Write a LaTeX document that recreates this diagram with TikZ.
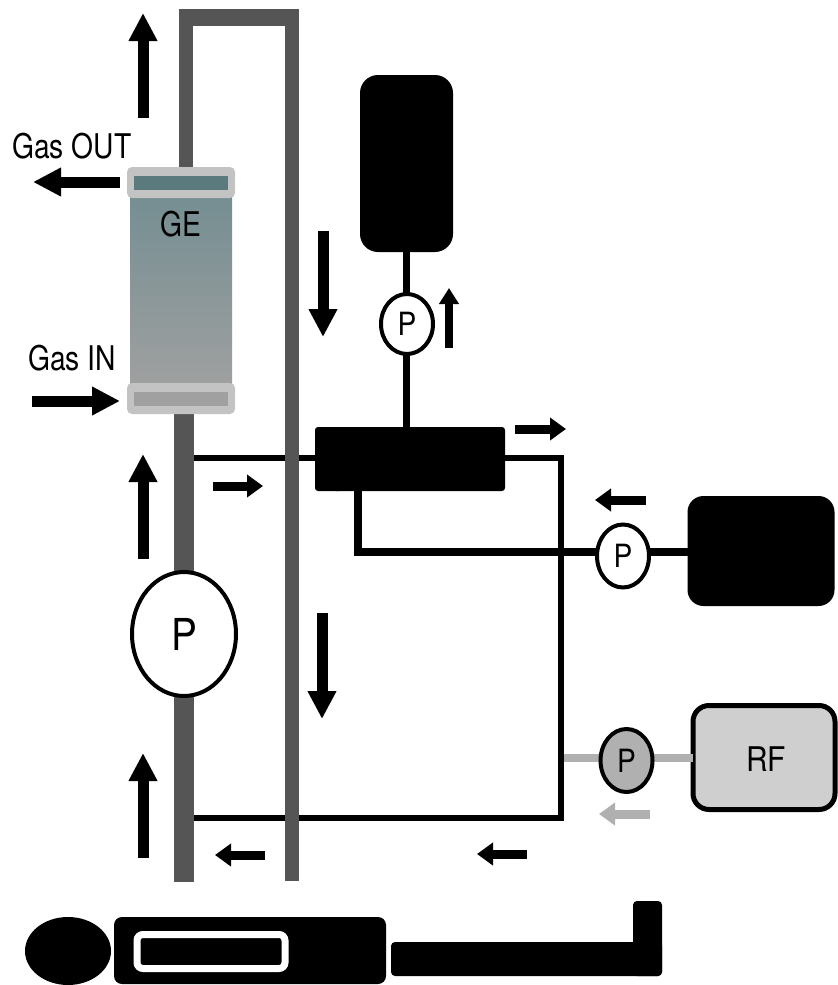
\documentclass[tikz,border=0pt]{standalone}
\usepackage{fontspec}
\setmainfont{TeX Gyre Heros}
\usetikzlibrary{positioning,calc,arrows.meta,shapes.geometric}
\definecolor{pipegray}{HTML}{555555}
\definecolor{capgray}{HTML}{C3C3C3}
\definecolor{rfgray}{HTML}{CFCFCF}
\definecolor{feedgray}{HTML}{B0B0B0}
\definecolor{getop}{HTML}{748E92}
\definecolor{gebot}{HTML}{A0A0A0}
\definecolor{capteal}{HTML}{5A7A7E}
\newcommand{\pumpmark}{\scalebox{.88}[1]{P}}
\tikzset{
	pipe/.style={draw=pipegray,line width=7pt},
	tube/.style={draw=black,line width=3pt},
	feed/.style={draw=feedgray,line width=4pt},
	bigflow/.style={line width=5.5pt,-{Triangle[length=14pt,width=13.5pt]}},
	smallflow/.style={line width=4.5pt,-{Triangle[length=8pt,width=11pt]}},
	pump/.style={ellipse,draw=black,fill=white,line width=2pt,inner sep=0pt,outer sep=0pt,font=\fontsize{16}{16}\selectfont},
	solid box/.style={rectangle,fill=black,inner sep=0pt,outer sep=0pt},
	capbox/.style={rectangle,rounded corners=2.5pt,fill=capgray,inner sep=0pt,outer sep=0pt,minimum width=54pt,minimum height=15.5pt},
	capin/.style={rectangle,inner sep=0pt,outer sep=0pt,minimum width=47pt,minimum height=7pt},
	lab/.style={inner sep=0pt,xscale=.83,font=\fontsize{17}{17}\selectfont}
}
\begin{document}
\begin{tikzpicture}[x=.5pt,y=-.5pt]
	\useasboundingbox (0,0) rectangle (837,985);
	\path (186,168) coordinate (Pt)
	      (292,881) coordinate (Pb)
	      (184,882) coordinate (Lb)
	      (357.5,552) coordinate (Tee)
	      (561,458) coordinate (Ra)
	      (561,817.5) coordinate (Rb)
	      (184,458) coordinate (La)
	      (184,817.5) coordinate (Lc);
	\draw[tube] (La) -- (333,458);
	\draw[tube] (Lc) -- (Rb) -- (Ra) -- (500,458);
	\draw[pipe] (Pt) -- (186,9);
	\draw[draw=pipegray,line width=8.5pt] (179,17.5) -- (299,17.5);
	\draw[pipe] (292,9) -- (Pb);
	\draw[draw=pipegray,line width=10pt] (184,410) -- (Lb);
	\node[rectangle,minimum width=51pt,minimum height=100pt,inner sep=0pt,outer sep=0pt,top color=getop,bottom color=gebot] (GE) at (181,291) {};
	\node[capbox] (capT) at (181,182.5) {};
	\node[capbox] (capB) at (181,398.5) {};
	\node[capin,fill=capteal] (capTi) at (capT) {};
	\node[capin,fill=gebot] (capBi) at (capB) {};
	\node[lab] (GElab) at (181,224) {GE};
	\node[lab,anchor=west] (gasout) at (12,146) {Gas OUT};
	\node[lab,anchor=west] (gasin) at (28,358) {Gas IN};
	\node[solid box,rounded corners=1.5pt,minimum width=86pt,minimum height=32pt] (mixer) at (419,459) {};
	\node[solid box,rounded corners=1.5pt,minimum width=13pt,minimum height=32pt] (mixerL) at (328,459) {};
	\node[solid box,rounded corners=9pt,minimum width=46.5pt,minimum height=88.5pt] (tankA) at (406.5,163.5) {};
	\node[solid box,rounded corners=8pt,minimum width=73.5pt,minimum height=55pt] (tankB) at (761,551) {};
	\node[rectangle,draw=black,fill=rfgray,line width=2.5pt,rounded corners=8pt,inner sep=0pt,outer sep=0pt,minimum width=71pt,minimum height=52pt] (RF) at (764,757.5) {};
	\node[lab,xscale=1.06] (RFlab) at (766,759.5) {RF};
	\draw[tube,line width=3.5pt] (tankA.south) -- (mixer.north -| tankA.south);
	\draw[tube,line width=4pt] (mixer.south -| Tee) -- (Tee) -- (596,552);
	\draw[tube,line width=4pt] (tankB.west |- Tee) -- (650,552);
	\draw[feed] ([xshift=1.5pt]Rb |- RF.west) -- (RF.west);
	\node[pump,minimum width=52pt,minimum height=62pt,font=\fontsize{22}{22}\selectfont] (pumpC) at (184,634) {\pumpmark};
	\node[pump,minimum width=26pt,minimum height=30pt] (pumpA) at (407,324) {\pumpmark};
	\node[pump,minimum width=26pt,minimum height=31.5pt] (pumpB) at (623,556) {\pumpmark};
	\node[pump,fill=feedgray,minimum width=26pt,minimum height=31.5pt] (pumpD) at (626.5,760.5) {\pumpmark};
	\foreach \xa/\ya/\xb/\yb in {143/118/143/13,143/559/143/454,143/858/143/753,323/231/323/337,322/613/322/719,120/182/33/182,32/401/120/401}{
		\draw[bigflow] (\xa,\ya) -- (\xb,\yb);
	}
	\foreach \xa/\ya/\xb/\yb in {515/429/566/429,646/500/595/500,213/486/263/486,265/855/215/855,527/854/477/854}{
		\draw[smallflow] (\xa,\ya) -- (\xb,\yb);
	}
	\draw[smallflow,line width=4pt,-{Triangle[length=8pt,width=9.5pt]}] (449,348) -- (449,288);
	\draw[smallflow,draw=feedgray,fill=feedgray] (650,814) -- (599,814);
	\node[solid box,rounded corners=4pt,minimum width=136pt,minimum height=33.5pt] (body) at (250,950.5) {};
	\node[rectangle,draw=white,fill=black,line width=3.5pt,rounded corners=3pt,inner sep=0pt,outer sep=0pt,minimum width=74pt,minimum height=17pt] (chest) at (211,951.5) {};
	\node[ellipse,fill=black,inner sep=0pt,outer sep=0pt,minimum width=43pt,minimum height=34pt] (head) at (68,951) {};
	\node[solid box,rounded corners=2pt,minimum width=135.5pt,minimum height=17pt] (legs) at (526.5,959) {};
	\node[solid box,rounded corners=2pt,minimum width=14.5pt,minimum height=37.5pt,anchor=north] (foot) at (647.5,901) {};
\end{tikzpicture}
\end{document}
